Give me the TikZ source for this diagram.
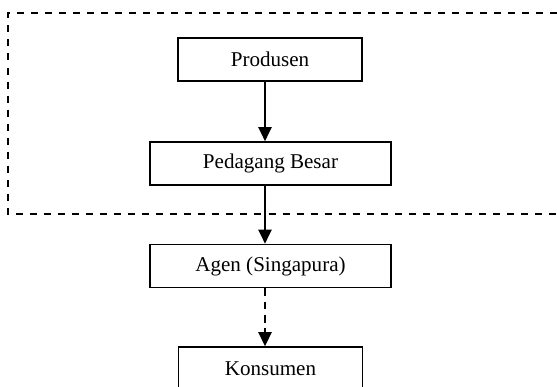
\documentclass[tikz,border=0pt]{standalone}
\usepackage{fontspec}
\setmainfont{Liberation Serif}
\usetikzlibrary{arrows.meta}
\tikzset{
  rt box/.style={draw=black, line width=1pt, minimum width=184*0.57pt, minimum height=43*0.57pt, inner sep=0pt, font=\fontsize{12}{14}\selectfont},
  rt wide box/.style={rt box, minimum width=241*0.57pt},
  rt flow/.style={draw=black, line width=0.9pt, -{Triangle[length=8pt, width=7.6pt]}},
  rt weak flow/.style={rt flow, line width=1.1pt, dash pattern=on 4.5pt off 3pt},
  rt group/.style={draw=black, line width=0.9pt, dash pattern=on 4pt off 4pt},
}
\begin{document}
\begin{tikzpicture}[x=0.57pt,y=-0.57pt]
  \useasboundingbox (0,0) rectangle (557,387);
  % dashed frame round the domestic part of the chain (right side runs off the page)
  \draw[rt group] (557,13) -- (8,13) -- (8,214) -- (557,214);
  % the four links of the chain
  \node[rt box]      (prod) at (270,59.5)  {Produsen};
  \node[rt wide box] (ped)  at (270.5,163.5) {Pedagang Besar};
  \node[rt wide box] (agen) at (270.5,266) {Agen (Singapura)};
  \node[rt box]      (kons) at (270.5,368.5) {Konsumen};
  % arrows, a little left of the box centres
  \draw[rt flow] ([xshift=-5*0.57pt]prod.south) -- ([xshift=-5.5*0.57pt]ped.north);
  \draw[rt flow] ([xshift=-5.5*0.57pt]ped.south) -- ([xshift=-5.5*0.57pt]agen.north);
  \draw[rt weak flow] ([xshift=-5.5*0.57pt]agen.south) -- ([xshift=-5.5*0.57pt]kons.north);
\end{tikzpicture}
\end{document}
